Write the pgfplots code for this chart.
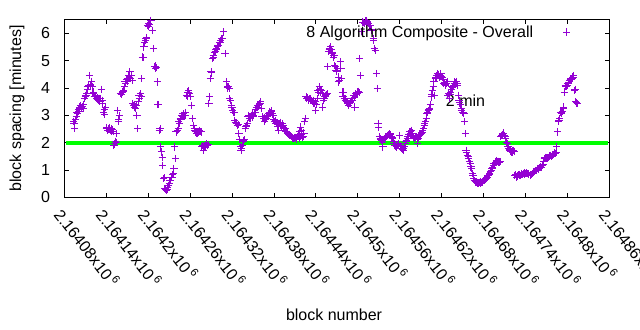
\documentclass[border=0pt]{standalone}
\usepackage{pgfplots}
\pgfplotsset{compat=1.18}
\usepackage{fontspec}
\setmainfont{Liberation Sans}
\definecolor{gpviolet}{RGB}{148,0,211}
\definecolor{gpgreen}{RGB}{0,255,0}
\begin{document}
\begin{tikzpicture}[font=\fontsize{16bp}{19bp}\selectfont]
\useasboundingbox (0,0) rectangle (640bp,330bp);
\begin{axis}[
  at={(64.3bp,132.7bp)}, anchor=south west,
  scale only axis, width=545bp, height=177.7bp,
  xmin=80, xmax=860, ymin=0, ymax=6.5,
  xtick={80,140,...,860},
  xticklabels={2.16408x10\,\textsuperscript{6},2.16414x10\,\textsuperscript{6},2.1642x10\,\textsuperscript{6},2.16426x10\,\textsuperscript{6},2.16432x10\,\textsuperscript{6},2.16438x10\,\textsuperscript{6},2.16444x10\,\textsuperscript{6},2.1645x10\,\textsuperscript{6},2.16456x10\,\textsuperscript{6},2.16462x10\,\textsuperscript{6},2.16468x10\,\textsuperscript{6},2.16474x10\,\textsuperscript{6},2.1648x10\,\textsuperscript{6},2.16486x10\,\textsuperscript{6}},
  ytick={0,1,2,3,4,5,6},
  /pgf/number format/assume math mode=true,
  tick align=inside,
  major tick length=4.5bp,
  axis line style={line width=0.8bp},
  major tick style={line width=0.8bp, black},
  xticklabel style={yshift=-9bp, rotate=-52, anchor=north west, inner sep=0pt},
  yticklabel style={inner sep=0pt, xshift=-14bp},
  xlabel={block number}, ylabel={block spacing [minutes]},
  xlabel style={at={(axis description cs:0.495,-0.662)}, anchor=center},
  ylabel style={at={(axis description cs:-0.0868,0.5)}, anchor=center},
  legend style={draw=none, fill=none, at={(axis description cs:0.929,0.930)}, anchor=east, inner sep=0pt, legend plot pos=right, column sep=30bp, nodes={inner sep=0pt}},
]
\node[anchor=west, inner sep=0pt] at (axis cs:626,3.52) {2 min};
\addplot[gpgreen, line width=4bp, forget plot] coordinates {(82,2) (858,2)};
% x = block number - 2164000, y = block spacing in minutes
\addplot[only marks, mark=+, mark size=3.6bp, gpviolet, mark options={line width=1bp}] coordinates {
(93,2.78)(94,2.70)(95,2.51)(96,2.85)(97,2.95)(98,3.12)(99,3.05)(100,3.20)(101,3.15)(102,3.30)(103,3.37)(104,3.25)(105,3.28)(106,3.32)(107,3.26)(108,3.40)(109,3.61)(110,3.70)(111,3.73)(112,3.78)(113,3.95)(114,4.04)(115,4.10)(116,4.46)(117,4.12)(118,4.10)(119,4.22)(120,4.05)
(121,3.79)(122,3.85)(123,3.70)(124,3.67)(125,3.72)(126,3.61)(127,3.64)(128,3.58)(129,3.55)(130,3.62)(131,3.50)(132,3.60)(133,3.95)(134,3.43)(135,3.55)(136,3.12)(137,3.20)(138,3.03)(139,3.30)
(140,2.51)(141,2.55)(142,2.45)(143,2.50)(144,2.55)(145,2.48)(146,2.45)(147,2.52)(148,2.40)(149,2.47)(150,2.42)(151,1.90)(152,1.95)(153,2.05)(154,2.33)(155,2.00)
(156,3.18)(157,2.76)(158,2.85)(159,3.00)(160,3.79)(161,3.80)(162,3.75)(163,3.85)(164,3.88)(165,3.92)
(166,4.05)(167,4.22)(168,4.15)(169,4.30)(170,4.34)(171,4.25)(172,4.46)(173,4.40)(174,4.59)(175,4.35)(176,4.45)(177,4.28)
(178,3.43)(179,3.37)(180,3.40)(181,3.30)(182,3.25)(183,3.35)(184,3.00)(185,2.51)(186,3.49)(187,3.73)(188,3.60)(189,3.79)(190,3.70)
(191,4.34)(192,5.13)(193,5.10)(194,5.50)(195,5.68)(196,5.75)(197,5.81)(198,5.85)(199,6.29)(200,6.25)(201,6.35)(202,6.32)(204,6.48)(206,6.11)(208,5.44)(209,4.77)(210,4.80)(211,4.71)(212,4.75)(213,4.22)(214,3.39)(215,3.40)(216,2.45)(217,2.50)
(218,1.84)(219,1.66)(220,1.47)(221,1.17)(222,0.68)(223,0.72)(224,0.32)(225,0.30)(226,0.26)(227,0.28)(228,0.35)(229,0.44)(230,0.50)(231,0.62)(232,0.60)(233,0.74)(234,0.72)(235,0.82)(236,0.87)(237,1.05)(238,1.84)(239,1.42)(240,2.39)
(241,2.39)(242,2.45)(243,2.50)(244,2.76)(245,2.70)(246,2.88)(247,2.85)(248,3.00)(249,2.95)(250,3.06)(251,3.05)(252,3.00)(253,3.10)(254,2.98)(255,3.73)(256,3.70)(257,3.85)(258,3.90)(259,3.79)(260,3.70)(262,3.37)(263,2.88)
(265,2.63)(266,2.51)(267,2.45)(268,2.39)(269,2.35)(270,2.33)(271,2.40)(272,2.39)(273,2.42)(274,2.45)(275,2.40)(276,2.39)(277,1.84)(278,1.90)(279,1.72)(280,1.85)(281,1.90)(282,1.88)(283,1.92)(284,1.96)(285,1.90)(286,1.93)(287,3.43)(288,3.67)
(289,4.34)(290,4.59)(291,4.55)(292,5.07)(293,5.20)(294,5.10)(295,5.30)(296,5.32)(297,5.40)(298,5.44)(299,5.50)(300,5.56)(301,5.55)(302,5.65)(303,5.68)(304,5.75)(305,5.81)(306,5.80)(308,6.05)(310,5.26)
(312,4.22)(313,4.00)(314,4.04)(315,4.05)(316,3.98)(317,3.61)(318,3.55)(319,3.37)(320,3.30)(321,3.18)(322,3.12)(323,3.10)(324,2.82)(325,2.75)(326,2.70)(327,2.72)(328,2.63)(329,2.65)(330,2.33)(331,2.10)(332,1.84)(333,1.72)(334,1.80)(335,1.90)(336,2.09)(337,2.05)(338,2.10)(339,2.51)(340,2.60)(341,2.63)(342,2.70)(343,2.94)
(344,3.00)(345,2.90)(346,2.88)(347,2.95)(348,3.00)(349,3.05)(350,2.94)(351,3.00)(352,3.10)(353,3.12)(354,3.20)(355,3.30)(356,3.28)(357,3.37)(358,3.35)(359,3.40)(360,3.43)(361,3.49)(362,3.25)(363,2.94)(364,2.95)(365,2.88)(366,2.90)(367,2.76)(368,2.85)(369,2.88)(370,2.95)(371,3.00)(372,3.00)(373,3.06)(374,3.12)(375,3.10)(376,3.18)(377,3.15)(378,3.05)(379,3.00)(380,2.85)(381,2.76)(382,2.80)(383,2.70)(384,2.72)(385,2.60)(386,2.45)(387,2.65)(388,2.70)(389,2.75)(390,2.63)(391,2.60)(392,2.70)(393,2.63)(394,2.55)(395,2.45)(396,2.50)(397,2.40)(398,2.39)(399,2.35)(400,2.33)(401,2.30)(402,2.28)(403,2.27)(404,2.25)(405,2.21)(406,2.20)(407,2.17)(408,2.15)(409,2.18)(410,2.15)(411,2.20)(412,2.17)(413,2.12)(414,2.21)(415,2.25)(416,2.15)(417,2.39)(418,2.57)(419,2.45)(420,2.30)(421,2.20)(422,2.21)(423,2.35)(424,2.76)(425,2.88)
(426,3.67)(427,3.61)(428,3.65)(429,3.55)(430,3.58)(431,3.61)(432,3.55)(433,3.60)(434,3.55)(435,3.50)(436,3.55)(437,3.45)(438,3.43)(439,3.50)(440,3.18)(441,3.40)(442,3.60)(443,3.92)(444,3.85)(445,4.04)(446,3.95)(447,3.85)(448,3.90)(449,3.80)(450,3.30)(451,3.55)(452,3.61)(453,3.70)(454,3.73)(455,3.75)(456,3.79)(457,4.77)(458,5.32)(459,5.40)(460,5.45)(461,5.50)(462,5.40)(463,5.26)(464,5.30)(465,5.13)(466,5.20)(467,4.83)(468,4.77)(469,4.65)(470,4.59)(471,4.70)(472,4.22)(473,4.40)(474,4.28)(475,4.95)(476,4.71)(477,4.34)(478,3.85)
(479,3.70)(480,3.85)(481,3.61)(482,3.55)(483,3.61)(484,3.49)(485,3.45)(486,3.43)(487,3.35)(488,3.43)(489,3.49)(490,3.45)(491,3.55)(492,3.60)(493,3.55)(494,3.73)(495,3.65)(496,3.30)(497,3.79)(498,3.75)(499,3.85)(500,3.80)(501,3.88)(502,3.82)
(503,5.07)(504,4.46)(505,6.07)(507,6.41)(508,6.38)(510,6.35)(511,6.45)(512,6.47)(513,6.42)(514,6.40)(515,6.35)(517,6.29)(518,6.30)(519,6.11)(520,6.15)(522,5.81)(523,5.74)(524,5.44)(525,5.38)(527,4.53)(528,3.98)
(529,2.70)(530,2.57)(531,2.21)(532,2.15)(533,2.12)(534,2.09)(535,2.00)(536,1.84)(537,2.10)(538,2.15)(539,2.18)(540,2.21)(541,2.21)(542,2.25)(543,2.27)(544,2.30)(545,2.28)(546,2.33)(547,2.28)(548,2.21)(549,2.18)(550,2.15)(551,2.05)(552,1.95)(553,1.90)(554,1.88)(555,1.84)(556,1.86)(557,1.92)(558,1.90)(559,1.95)(560,2.27)(561,1.90)(562,1.78)(563,1.80)(564,1.75)(565,1.72)(566,1.78)(567,1.84)(568,1.95)(569,2.05)(570,2.09)(571,2.15)(572,2.21)(573,2.30)(574,2.39)(575,2.35)(576,2.40)(577,2.45)(578,2.35)(579,2.27)(580,2.20)(581,2.15)(582,2.18)(583,2.20)(584,2.21)(585,2.10)(586,1.96)(587,2.15)(588,2.27)(589,2.30)(590,2.28)(591,2.33)(592,2.38)(593,2.45)(594,2.50)(595,2.63)(596,2.70)(597,2.76)(598,2.90)(599,3.05)(600,3.12)(601,3.18)(602,3.20)(603,3.25)(604,3.40)(605,3.67)(606,3.75)(607,3.90)(608,4.04)(609,4.22)
(610,3.73)(611,4.35)(612,4.40)(613,4.45)(614,4.53)(615,4.50)(616,4.46)(617,4.40)(618,4.45)(619,4.53)(620,4.42)(621,4.40)(622,4.30)(623,4.16)(624,4.20)(625,4.12)(626,4.10)(627,4.15)(628,4.22)(629,3.73)(630,3.80)(631,3.61)(632,3.75)(633,3.85)(634,3.95)(635,4.04)(636,4.00)(637,4.10)(638,4.15)(639,4.22)(640,4.18)(641,4.25)(642,4.15)(643,4.10)(644,3.73)(645,3.55)(646,3.45)(647,3.40)(648,3.18)(649,3.25)(650,3.12)(651,3.10)(652,3.06)(653,2.76)(654,2.33)(655,1.72)(656,1.65)(657,1.54)(658,1.50)(659,1.42)(660,1.30)(661,1.23)(662,1.11)(663,1.05)(664,0.87)(665,0.80)(666,0.70)(667,0.62)(668,0.58)(669,0.56)(670,0.55)(671,0.50)(672,0.55)(673,0.52)(674,0.55)(675,0.50)(676,0.56)(677,0.53)(678,0.55)(679,0.58)(680,0.60)(681,0.62)(682,0.65)(683,0.68)(684,0.70)(685,0.74)(686,0.78)(687,0.80)(688,0.85)(689,0.87)(690,0.93)(691,0.98)(692,1.05)(693,1.10)(694,1.17)(695,1.22)(696,1.23)(697,1.29)(698,1.32)(699,1.35)(700,1.30)(701,1.29)(702,1.32)(703,1.29)(704,1.30)(705,2.21)(706,2.27)(707,2.30)(708,2.33)(709,2.35)(710,2.27)(711,2.21)(712,2.15)(713,2.02)(714,1.95)(715,1.84)(716,1.80)(717,1.75)(718,1.72)(719,1.68)(720,1.66)(721,1.70)(722,1.66)(723,1.72)(724,1.68)(725,0.80)(726,0.82)(727,0.74)(728,0.78)(729,0.80)(730,0.82)(731,0.80)(732,0.84)(733,0.80)(734,0.87)(735,0.85)(736,0.83)(737,0.87)(738,0.85)(739,0.90)(740,0.87)(741,0.88)(742,0.90)
(743,0.87)(745,0.85)(747,0.80)(748,0.82)(750,0.88)(752,0.93)(753,0.95)(755,0.99)(756,0.97)(757,1.05)(758,1.02)(759,1.05)(760,1.08)(762,1.11)(763,1.10)(764,1.17)(765,1.20)(766,1.30)(767,1.42)(768,1.45)(769,1.47)(770,1.44)(771,1.42)(772,1.45)(773,1.47)(774,1.50)(775,1.52)(776,1.54)(777,1.50)(778,1.52)(779,1.55)(780,1.58)(781,1.60)(782,1.62)(783,1.60)(784,1.65)(785,1.84)(786,2.39)(787,2.76)(788,2.82)(789,2.88)(790,3.12)(791,3.10)(792,3.06)(793,3.15)(794,3.25)(795,3.30)(796,3.85)(797,4.10)(798,4.05)(799,4.04)(800,4.10)(801,4.16)(802,4.20)(803,4.28)(804,4.30)(805,4.34)(806,4.30)(807,4.34)(808,4.40)(809,4.46)(810,3.92)(811,3.95)(812,3.49)(813,3.45)(814,3.43)
};
\addlegendentry{8 Algorithm Composite - Overall}
\end{axis}
\end{tikzpicture}
\end{document}
